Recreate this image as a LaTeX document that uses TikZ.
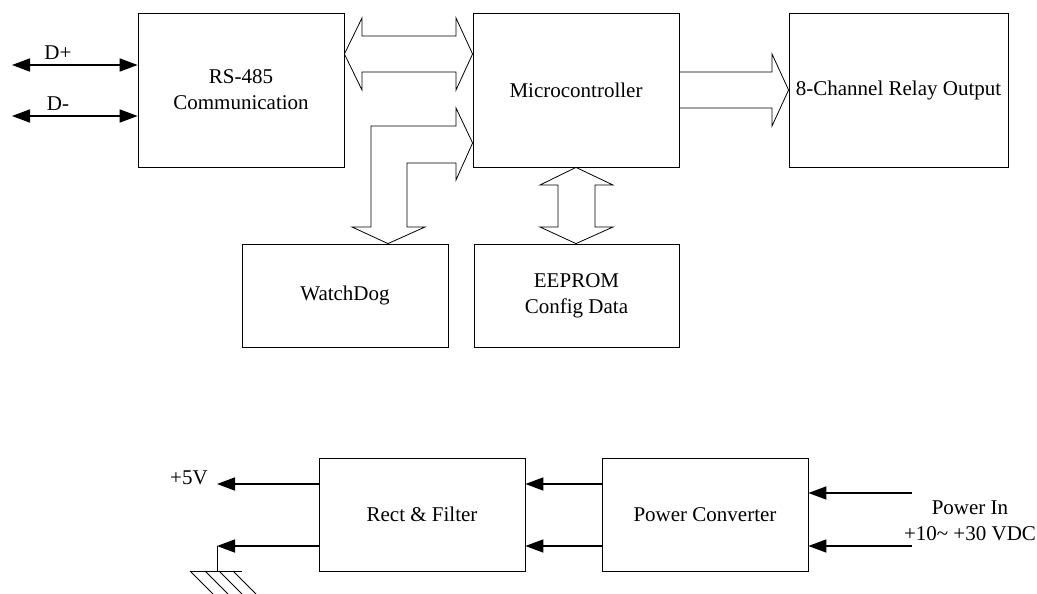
\documentclass[tikz,border=0pt]{standalone}
\usepackage{fontspec}
\setmainfont{Liberation Serif}
\usetikzlibrary{arrows.meta}
\begin{document}
\begin{tikzpicture}[x=1pt, y=-1pt, font=\fontsize{21}{26}\selectfont,
  blockbox/.style={draw, line width=0.8pt, align=center, inner sep=0pt},
  hollow/.style={draw, line width=0.8pt, line join=miter},
  wire/.style={line width=1.6pt, >={Triangle[length=18pt,width=13pt]}}]
  \useasboundingbox (0,0) rectangle (1037,594);
  % upper blocks
  \node[blockbox, minimum width=206pt, minimum height=154pt] (rs) at (241,90) {RS-485\\Communication};
  \node[blockbox, minimum width=206pt, minimum height=154pt] (mcu) at (576,90) {Microcontroller};
  \node[blockbox, minimum width=219pt, minimum height=154pt] (relay) at (898.5,90) {8-Channel Relay Output};
  \node[blockbox, minimum width=206pt, minimum height=103pt] (wdog) at (345,295.5) {WatchDog};
  \node[blockbox, minimum width=205pt, minimum height=103pt] (eeprom) at (576.5,295.5) {EEPROM\\Config Data};
  % RS-485 lines
  \coordinate (dplus) at (12,65);
  \coordinate (dminus) at (12,116);
  \draw[wire, <->] (dplus) -- (rs.west |- dplus);
  \draw[wire, <->] (dminus) -- (rs.west |- dminus);
  \node (dplabel) at (58,53) {D+};
  \node (dmlabel) at (58,104) {D-};
  % hollow bus arrows
  \draw[hollow] (rs.east |- 0,54) -- (362,18) -- (362,36) -- (456,36) -- (456,18) -- (mcu.west |- 0,54)
    -- (456,90) -- (456,72) -- (362,72) -- (362,90) -- cycle;
  \draw[hollow] (mcu.east |- 0,72) -- (772,72) -- (772,54) -- (relay.west) -- (772,126) -- (772,108) -- (mcu.east |- 0,108);
  \draw[hollow] (mcu.west |- 0,143) -- (456,108) -- (456,126) -- (371,126) -- (371,227) -- (352,227)
    -- (wdog.north -| 388,0) -- (425,227) -- (407,227) -- (407,163) -- (456,163) -- (456,180) -- cycle;
  \draw[hollow] (mcu.south) -- (613,185) -- (595,185) -- (595,227) -- (613,227) -- (eeprom.north -| mcu.south)
    -- (540,227) -- (558,227) -- (558,185) -- (540,185) -- cycle;
  % power blocks
  \node[blockbox, minimum width=206pt, minimum height=113pt] (rect) at (422,514.5) {Rect \& Filter};
  \node[blockbox, minimum width=206pt, minimum height=113pt] (conv) at (705,514.5) {Power Converter};
  \coordinate (vout) at (217,484);
  \coordinate (vgnd) at (217,546);
  \coordinate (pin1) at (912,493);
  \coordinate (pin2) at (912,546);
  \draw[wire, ->] (rect.west |- vout) -- (vout);
  \draw[wire, ->] (rect.west |- vgnd) -- (vgnd);
  \draw[wire, ->] (conv.west |- vout) -- (rect.east |- vout);
  \draw[wire, ->] (conv.west |- vgnd) -- (rect.east |- vgnd);
  \draw[wire, ->] (pin1) -- (conv.east |- pin1);
  \draw[wire, ->] (pin2) -- (conv.east |- pin2);
  \node (vlabel) at (189,478) {+5V};
  \node[align=center] (pinlabel) at (970,521) {Power In\\+10\textasciitilde{} +30 VDC};
  % ground
  \draw[line width=0.8pt] (vgnd) -- (217,571);
  \draw[line width=0.8pt] (190,571) -- (242,571);
  \foreach \gx in {190,205,219,233} {\draw[line width=0.8pt] (\gx,571) -- (\gx+23,594);}
\end{tikzpicture}
\end{document}
